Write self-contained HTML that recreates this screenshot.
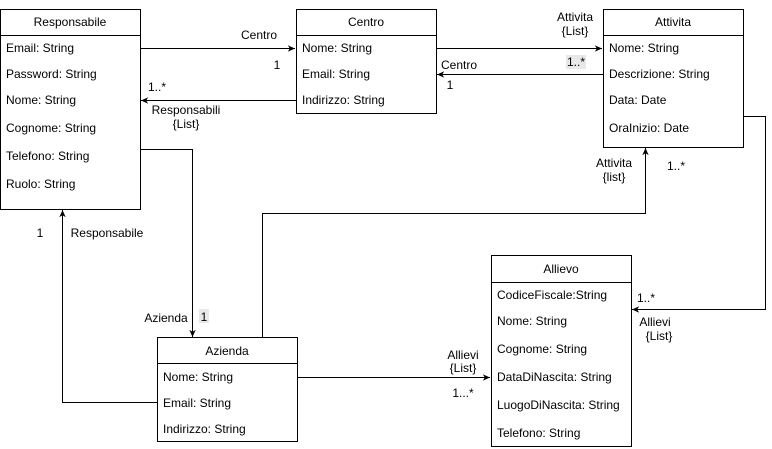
<!DOCTYPE html>
<html><head><meta charset="utf-8"><style>
html,body{margin:0;padding:0;background:#fff;width:772px;height:449px;overflow:hidden}
svg text{font-family:"Liberation Sans",sans-serif;font-size:12px;fill:#000;dominant-baseline:central}
</style></head><body>
<svg width="772" height="449" viewBox="0 0 772 449" xmlns="http://www.w3.org/2000/svg">
<defs><marker id="a" viewBox="0 0 10 10" refX="9" refY="5" markerWidth="8" markerHeight="8" orient="auto" markerUnits="userSpaceOnUse"><path d="M0,1 L9,5 L0,9 L2.5,5 z" fill="#000"/></marker></defs>
<g fill="#fff" stroke="#000" stroke-width="1">
<rect x="0.5" y="9.5" width="140" height="200"/><line x1="0.5" y1="35.5" x2="140.5" y2="35.5"/>
<rect x="296.5" y="9.5" width="140" height="104"/><line x1="296.5" y1="35.5" x2="436.5" y2="35.5"/>
<rect x="603.5" y="9.5" width="140" height="138"/><line x1="603.5" y1="35.5" x2="743.5" y2="35.5"/>
<rect x="157.5" y="337.5" width="140" height="104"/><line x1="157.5" y1="363.5" x2="297.5" y2="363.5"/>
<rect x="491.5" y="255.5" width="140" height="191"/><line x1="491.5" y1="282.5" x2="631.5" y2="282.5"/>
</g>
<g fill="none" stroke="#000" stroke-width="1" marker-end="url(#a)">
<path d="M141,48.5 H295"/>
<path d="M296,100.5 H141"/>
<path d="M437,48.5 H602"/>
<path d="M603,74.5 H437"/>
<path d="M141,149.5 H192.5 V337"/>
<path d="M157,402.5 H62.5 V210"/>
<path d="M262.5,337 V213.5 H645.5 V148"/>
<path d="M744,116.5 H765.5 V309.5 H632"/>
<path d="M298,377.5 H490"/>
</g>
<g text-anchor="middle">
<text x="70" y="22">Responsabile</text>
<text x="366" y="22">Centro</text>
<text x="673" y="22">Attivita</text>
<text x="227" y="351">Azienda</text>
<text x="561" y="269">Allievo</text>
</g>
<text x="6" y="48">Email: String</text>
<text x="6" y="74">Password: String</text>
<text x="6" y="100">Nome: String</text>
<text x="6" y="128">Cognome: String</text>
<text x="6" y="156">Telefono: String</text>
<text x="6" y="184">Ruolo: String</text>
<text x="302" y="48">Nome: String</text>
<text x="302" y="74">Email: String</text>
<text x="302" y="100">Indirizzo: String</text>
<text x="609" y="48">Nome: String</text>
<text x="609" y="74">Descrizione: String</text>
<text x="609" y="100">Data: Date</text>
<text x="609" y="128">OraInizio: Date</text>
<text x="163" y="377">Nome: String</text>
<text x="163" y="403">Email: String</text>
<text x="163" y="429">Indirizzo: String</text>
<text x="497" y="295">CodiceFiscale:String</text>
<text x="497" y="321">Nome: String</text>
<text x="497" y="349">Cognome: String</text>
<text x="497" y="377">DataDiNascita: String</text>
<text x="497" y="405">LuogoDiNascita: String</text>
<text x="497" y="433">Telefono: String</text>
<g fill="#e8e8e8"><rect x="566" y="55" width="20" height="14"/><rect x="199" y="309" width="10" height="14"/></g>
<g text-anchor="middle">
<text x="259" y="35">Centro</text>
<text x="277" y="65">1</text>
<text x="157" y="87">1..*</text>
<text x="186" y="110">Responsabili</text>
<text x="186" y="124">{List}</text>
<text x="575" y="17">Attivita</text>
<text x="575" y="31">{List}</text>
<text x="576" y="62">1..*</text>
<text x="459" y="65">Centro</text>
<text x="450" y="85">1</text>
<text x="166" y="318">Azienda</text>
<text x="204" y="317">1</text>
<text x="40" y="233">1</text>
<text x="107" y="233">Responsabile</text>
<text x="614" y="163">Attivita</text>
<text x="614" y="177">{list}</text>
<text x="676" y="166">1..*</text>
<text x="646" y="298">1..*</text>
<text x="655" y="322">Allievi</text>
<text x="659" y="336">{List}</text>
<text x="463" y="355">Allievi</text>
<text x="463" y="368">{List}</text>
<text x="463" y="393">1...*</text>
</g>
</svg>
</body></html>
